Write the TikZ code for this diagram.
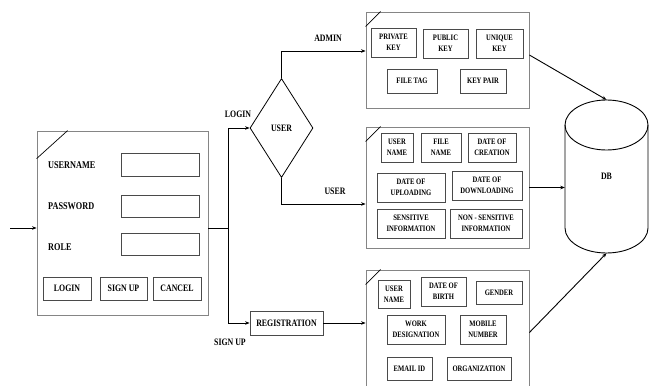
\documentclass[tikz,border=0pt]{standalone}
\usepackage{fontspec}
\setmainfont[FakeStretch=0.8]{Liberation Serif}
\usetikzlibrary{shapes.geometric,arrows.meta,calc}
\definecolor{framegray}{HTML}{858585}
\definecolor{itemgray}{HTML}{4A4A4A}
\tikzset{
  frame/.style={draw=framegray, line width=0.8pt, rectangle, inner sep=0pt},
  itembox/.style={draw=itemgray, line width=0.8pt, rectangle, inner sep=0pt, align=center,
    font=\fontsize{8.3}{11}\selectfont\bfseries},
  inbox/.style={draw=itemgray, line width=0.8pt, rectangle, inner sep=0pt},
  btn/.style={draw=itemgray, line width=0.8pt, rectangle, inner sep=0pt, align=center,
    font=\fontsize{9.8}{10}\selectfont\bfseries},
  lbl/.style={inner sep=0pt, font=\fontsize{10.3}{11}\selectfont\bfseries},
  small/.style={inner sep=0pt, font=\fontsize{9.8}{10}\selectfont\bfseries},
  conn/.style={draw=black, line width=0.9pt},
  arr/.style={conn, -{Stealth[length=4.5pt,width=3.5pt]}},
  fold/.style={draw=black, line width=0.7pt}
}
\begin{document}
\begin{tikzpicture}[x=1pt,y=-1pt]
\useasboundingbox (0,0) rectangle (652,385);
\clip (0,0) rectangle (652,385);

% ---------- login form ----------
\node[frame, minimum width=171, minimum height=184] (login) at (122.5,223) {};
\draw[fold] ([xshift=31pt]login.north west) -- ([yshift=-28pt]login.north west);
\node[lbl, anchor=west] (lusr) at (48,165) {USERNAME};
\node[lbl, anchor=west] (lpwd) at (48,206) {PASSWORD};
\node[lbl, anchor=west] (lrole) at (48,247) {ROLE};
\node[inbox, minimum width=78, minimum height=23] (iusr) at (160,164.5) {};
\node[inbox, minimum width=78, minimum height=22] (ipwd) at (160,206) {};
\node[inbox, minimum width=78, minimum height=22] (irole) at (160,244) {};
\node[btn, minimum width=48, minimum height=23] (blogin) at (67,288.5) {LOGIN};
\node[btn, minimum width=47, minimum height=23] (bsign) at (123.5,288.5) {SIGN UP};
\node[btn, minimum width=48, minimum height=23] (bcancel) at (177,288.5) {CANCEL};

\coordinate (start) at (10,228);
\draw[arr] (start) -- (start -| login.west);

% ---------- branching ----------
\coordinate (junc) at (228,228);
\coordinate (jtop) at (228,128);
\coordinate (jbot) at (228,323);
\draw[conn] (login.east |- junc) -- (junc);
\draw[conn] (jtop) -- (jbot);

\node[diamond, draw=black, line width=0.8pt, inner sep=0pt, minimum width=63, minimum height=99,
  font=\fontsize{9.8}{10}\selectfont\bfseries] (user) at (281.5,128) {USER};
\draw[arr] (jtop) -- (user.west);
\node[small] (tlogin) at (238,114) {LOGIN};

\node[btn, minimum width=73, minimum height=24] (reg) at (286.5,323) {REGISTRATION};
\draw[arr] (jbot) -- (reg.west);
\node[small] (tsign) at (230,342) {SIGN UP};

% ---------- admin box ----------
\node[frame, minimum width=163, minimum height=96] (admin) at (447.5,60) {};
\draw[fold] ([xshift=15pt]admin.north west) -- ([yshift=-15pt]admin.north west);
\node[itembox, minimum width=45, minimum height=29] (a1) at (393.5,42.5) {PRIVATE\\KEY};
\node[itembox, minimum width=45, minimum height=29] (a2) at (445.5,43.5) {PUBLIC\\KEY};
\node[itembox, minimum width=47, minimum height=29] (a3) at (499.5,43.5) {UNIQUE\\KEY};
\node[itembox, minimum width=50, minimum height=24] (a4) at (412,81) {FILE TAG};
\node[itembox, minimum width=46, minimum height=24] (a5) at (483,81) {KEY PAIR};

% ---------- user box ----------
\node[frame, minimum width=163, minimum height=121] (ubox) at (447.5,187.5) {};
\draw[fold] ([xshift=15pt]ubox.north west) -- ([yshift=-15pt]ubox.north west);
\node[itembox, minimum width=32, minimum height=29] (u1) at (397,147.5) {USER\\NAME};
\node[itembox, minimum width=40, minimum height=29] (u2) at (441,147.5) {FILE\\NAME};
\node[itembox, minimum width=48, minimum height=29] (u3) at (492,147.5) {DATE OF\\CREATION};
\node[itembox, minimum width=68, minimum height=29] (u4) at (411,187.5) {DATE OF\\UPLOADING};
\node[itembox, minimum width=70, minimum height=29] (u5) at (487,185.5) {DATE OF\\DOWNLOADING};
\node[itembox, minimum width=68, minimum height=29] (u6) at (411,223.5) {SENSITIVE\\INFORMATION};
\node[itembox, minimum width=72, minimum height=29] (u7) at (486,223.5) {NON - SENSITIVE\\INFORMATION};

% ---------- registration box ----------
\node[frame, minimum width=163, minimum height=125] (rbox) at (447.5,332.5) {};
\draw[fold] ([xshift=15pt]rbox.north west) -- ([yshift=-15pt]rbox.north west);
\node[itembox, minimum width=32, minimum height=28] (r1) at (394,294) {USER\\NAME};
\node[itembox, minimum width=45, minimum height=29] (r2) at (443.5,291.5) {DATE OF\\BIRTH};
\node[itembox, minimum width=46, minimum height=23] (r3) at (499,292.5) {GENDER};
\node[itembox, minimum width=58, minimum height=29] (r4) at (416,329.5) {WORK\\DESIGNATION};
\node[itembox, minimum width=46, minimum height=29] (r5) at (483,329.5) {MOBILE\\NUMBER};
\node[itembox, minimum width=45, minimum height=23] (r6) at (409.5,368.5) {EMAIL ID};
\node[itembox, minimum width=64, minimum height=23] (r7) at (479,368.5) {ORGANIZATION};

% ---------- connections to boxes ----------
\node[small] (tadmin) at (328,38) {ADMIN};
\node[small] (tuser) at (335,191) {USER};
\draw[arr] (user.north) |- ([yshift=9pt]admin.west);
\draw[arr] (user.south) |- ([yshift=-16.5pt]ubox.west);
\draw[arr] (reg.east) -- (reg.east -| rbox.west);

% ---------- DB ----------
\node[inner sep=0pt, minimum width=83, minimum height=153,
  font=\fontsize{9.8}{10}\selectfont\bfseries] (db) at (606.5,176.5) {DB};
\draw[line width=0.9pt] (606.5,125) ellipse [x radius=41.5, y radius=25];
\draw[line width=0.9pt] (565,125) -- (565,228)
  arc[start angle=180, end angle=0, x radius=41.5, y radius=25] -- (648,125);

\draw[arr] ([yshift=5pt]admin.east) -- (db.north);
\draw[arr] (ubox.east) -- (ubox.east -| db.west);
\draw[arr] (rbox.east) -- (db.south);
\end{tikzpicture}
\end{document}
